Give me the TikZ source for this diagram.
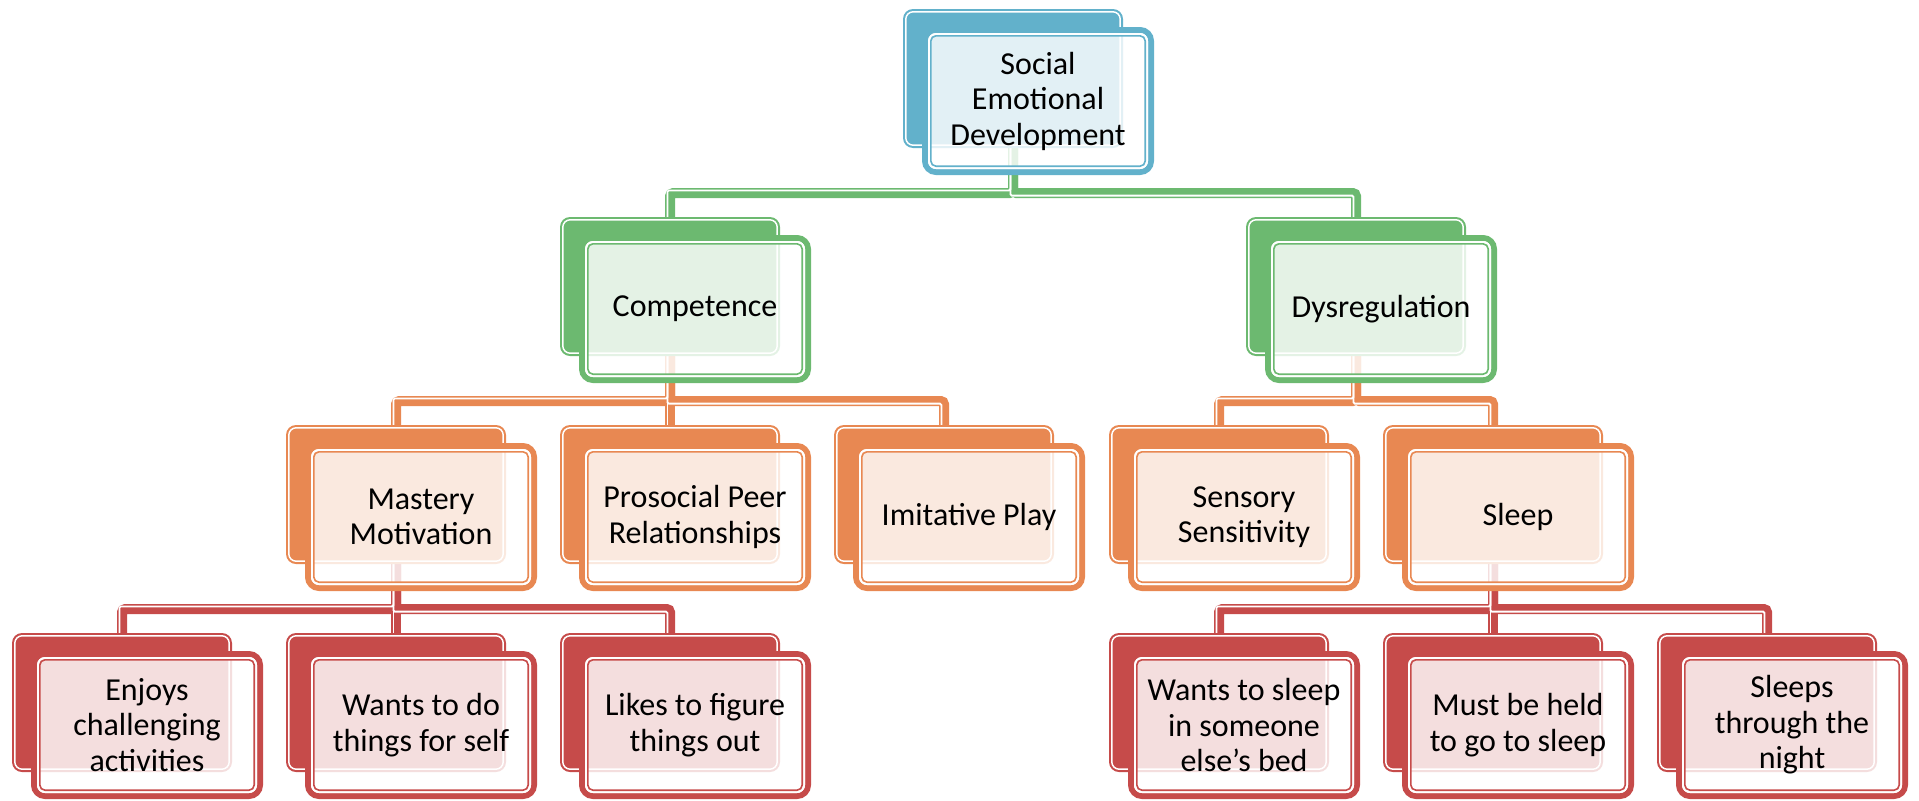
\documentclass[tikz,border=0pt]{standalone}
\usepackage{fontspec}
\setmainfont{Carlito}
\usetikzlibrary{calc}
\definecolor{cblue}{RGB}{98,177,203}
\definecolor{cgreen}{RGB}{108,185,112}
\definecolor{corange}{RGB}{232,136,82}
\definecolor{cred}{RGB}{198,75,74}
\tikzset{
  connline/.style={draw=#1, line width=7.5pt, rounded corners=2.5pt},
  connwhite/.style={draw=white, line width=1.35pt, rounded corners=1pt},
  anchorbox/.style={inner sep=0pt, outer sep=0pt, minimum width=165pt, minimum height=104.25pt, anchor=north west},
  boxtext/.style={font=\fontsize{24pt}{26.6pt}\selectfont, align=center, inner sep=0pt, text=black},
}
\newcommand\placebox[3]{\node[anchorbox] (#1) at (#2,#3) {};}
% bent connector: colour, parent, child
\newcommand\connbent[3]{\draw[connline=#1] (#2.south) -- ++(0,45) -| (#3.north);}
\newcommand\connstraight[3]{\draw[connline=#1] (#2.south) -- (#3.north);}
% white inner line: parent, child, side (-1 west, +1 east)
\newcommand\whitebent[3]{\draw[connwhite] ($(#1.south)+(-2.6,0)$) -- ($(#1.south)+(-2.6,45+#3*2.6)$) -| ($(#2.north)+(-2.6,0)$);}
\newcommand\whitestraight[2]{\draw[connwhite] ($(#1.south)+(-2.6,0)$) -- ($(#2.north)+(-2.6,0)$);}
\newcommand\drawbox[3]{%
  \fill[#2, rounded corners=7.5pt] (#1.north west) rectangle (#1.south east);
  \draw[white, line width=1.1pt, rounded corners=5.5pt] ($(#1.north west)+(2.8,2.8)$) rectangle ($(#1.south east)+(-2.8,-2.8)$);
  \draw[#2, line width=4.5pt, rounded corners=8.25pt] ($(#1.north west)+(22,21)$) rectangle ($(#1.north west)+(248,163)$);
  \fill[white, fill opacity=0.82, rounded corners=6pt] ($(#1.north west)+(25,24)$) rectangle ($(#1.north west)+(245,160)$);
  \draw[white, line width=1.5pt, rounded corners=5.25pt] ($(#1.north west)+(26,25)$) rectangle ($(#1.north west)+(244,159)$);
  \draw[#2, line width=1.2pt, rounded corners=3.9pt] ($(#1.north west)+(27.8,26.8)$) rectangle ($(#1.north west)+(242.2,157.2)$);
  \node[boxtext] (#1t) at ($(#1.north west)+(135,92)$) {#3};
}
\begin{document}
\begin{tikzpicture}[x=0.75pt, y=-0.75pt]
\useasboundingbox (0,0) rectangle (1919,800);
% box anchors
\placebox{top}{903}{9}
\placebox{comp}{560}{217}
\placebox{dys}{1246}{217}
\placebox{mast}{286}{425}
\placebox{pros}{560}{425}
\placebox{imit}{834}{425}
\placebox{sens}{1109}{425}
\placebox{sleep}{1383}{425}
\placebox{enj}{12}{633}
\placebox{wdo}{286}{633}
\placebox{likes}{560}{633}
\placebox{wsl}{1109}{633}
\placebox{held}{1383}{633}
\placebox{sthr}{1657}{633}
% connectors
\connbent{cgreen}{top}{comp}
\connbent{cgreen}{top}{dys}
\connbent{corange}{comp}{mast}
\connbent{corange}{comp}{imit}
\connstraight{corange}{comp}{pros}
\connbent{corange}{dys}{sens}
\connbent{corange}{dys}{sleep}
\connbent{cred}{mast}{enj}
\connbent{cred}{mast}{likes}
\connstraight{cred}{mast}{wdo}
\connbent{cred}{sleep}{wsl}
\connbent{cred}{sleep}{sthr}
\connstraight{cred}{sleep}{held}
\whitebent{top}{comp}{-1}
\whitebent{top}{dys}{1}
\whitebent{comp}{mast}{-1}
\whitebent{comp}{imit}{1}
\whitestraight{comp}{pros}
\whitebent{dys}{sens}{-1}
\whitebent{dys}{sleep}{1}
\whitebent{mast}{enj}{-1}
\whitebent{mast}{likes}{1}
\whitestraight{mast}{wdo}
\whitebent{sleep}{wsl}{-1}
\whitebent{sleep}{sthr}{1}
\whitestraight{sleep}{held}
% boxes
\drawbox{top}{cblue}{Social\\Emotional\\Development}
\drawbox{comp}{cgreen}{Competence}
\drawbox{dys}{cgreen}{Dysregulation}
\drawbox{mast}{corange}{Mastery\\Motivation}
\drawbox{pros}{corange}{Prosocial Peer\\Relationships}
\drawbox{imit}{corange}{Imitative Play}
\drawbox{sens}{corange}{Sensory\\Sensitivity}
\drawbox{sleep}{corange}{Sleep}
\drawbox{enj}{cred}{Enjoys\\challenging\\activities}
\drawbox{wdo}{cred}{Wants to do\\things for self}
\drawbox{likes}{cred}{Likes to figure\\things out}
\drawbox{wsl}{cred}{Wants to sleep\\in someone\\else’s bed}
\drawbox{held}{cred}{Must be held\\to go to sleep}
\drawbox{sthr}{cred}{Sleeps\\through the\\night}
\end{tikzpicture}
\end{document}
